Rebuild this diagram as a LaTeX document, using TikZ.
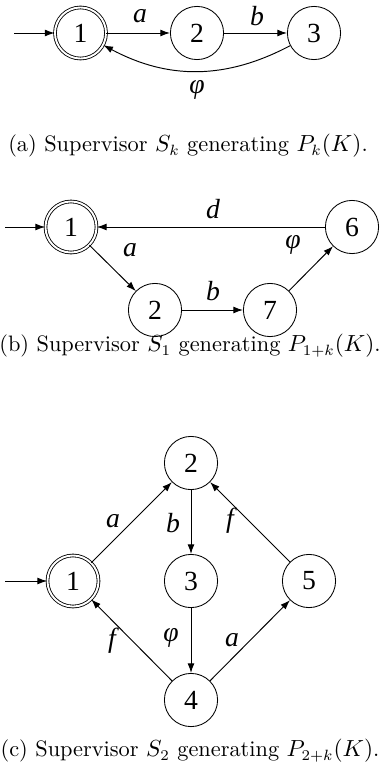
\documentclass[tikz,border=0pt]{standalone}
\usepackage{fontspec}
\newfontfamily\stfont{Liberation Serif}
\usetikzlibrary{arrows.meta}
\begin{document}
\begin{tikzpicture}[x=0.47pt,y=-0.47pt,
  st/.style={circle,draw,minimum size=25pt,inner sep=0pt,font={\stfont\fontsize{13}{15}\selectfont}},
  acc/.style={st,double,double distance=0.9pt,minimum size=24pt},
  lab/.style={font={\stfont\itshape\fontsize{13}{15}\selectfont},inner sep=0pt},
  ed/.style={-{Latex[length=4.5pt,width=3.2pt]},line width=0.45pt},
  captext/.style={font={\fontsize{10.5}{12}\selectfont},inner sep=0pt}]
\useasboundingbox (0,0) rectangle (380,769);
% (a)
\node[acc] (a1) at (80.5,33) {1};
\node[st] (a2) at (197,33) {2};
\node[st] (a3) at (314,33) {3};
\coordinate (a0) at (14,33);
\draw[ed] (a0) -- (a1);
\draw[ed] (a1) -- (a2);
\draw[ed] (a2) -- (a3);
\draw[ed] (a3) to[bend left=28] (a1);
\node[lab] at (140,16) {a};
\node[lab] at (257,16) {b};
\node[lab] at (197,90) {φ};
\node[captext] at (188,146) {(a) Supervisor $S_k$ generating $P_k(K)$.};
% (b)
\node[acc] (b1) at (71,227) {1};
\node[st] (b6) at (352,227) {6};
\node[st] (b2) at (155,310) {2};
\node[st] (b7) at (270,310) {7};
\coordinate (b0) at (5,227);
\draw[ed] (b0) -- (b1);
\draw[ed] (b6) -- (b1);
\draw[ed] (b1) -- (b2);
\draw[ed] (b2) -- (b7);
\draw[ed] (b7) -- (b6);
\node[lab] at (213,209) {d};
\node[lab] at (130,250) {a};
\node[lab] at (293,245) {φ};
\node[lab] at (213,291) {b};
\node[captext] at (190,346) {(b) Supervisor $S_1$ generating $P_{1+k}(K)$.};
% (c)
\node[acc] (c1) at (73,581) {1};
\node[st] (c2) at (191,463) {2};
\node[st] (c3) at (191,581) {3};
\node[st] (c5) at (309,581) {5};
\node[st] (c4) at (191,700) {4};
\coordinate (c0) at (5,581);
\draw[ed] (c0) -- (c1);
\draw[ed] (c1) -- (c2);
\draw[ed] (c2) -- (c3);
\draw[ed] (c3) -- (c4);
\draw[ed] (c4) -- (c1);
\draw[ed] (c4) -- (c5);
\draw[ed] (c5) -- (c2);
\node[lab] at (113,521) {a};
\node[lab] at (173,523) {b};
\node[lab] at (230,521) {f};
\node[lab] at (112,641) {f};
\node[lab] at (171,638) {φ};
\node[lab] at (232,640) {a};
\node[captext] at (190,751) {(c) Supervisor $S_2$ generating $P_{2+k}(K)$.};
\end{tikzpicture}
\end{document}
